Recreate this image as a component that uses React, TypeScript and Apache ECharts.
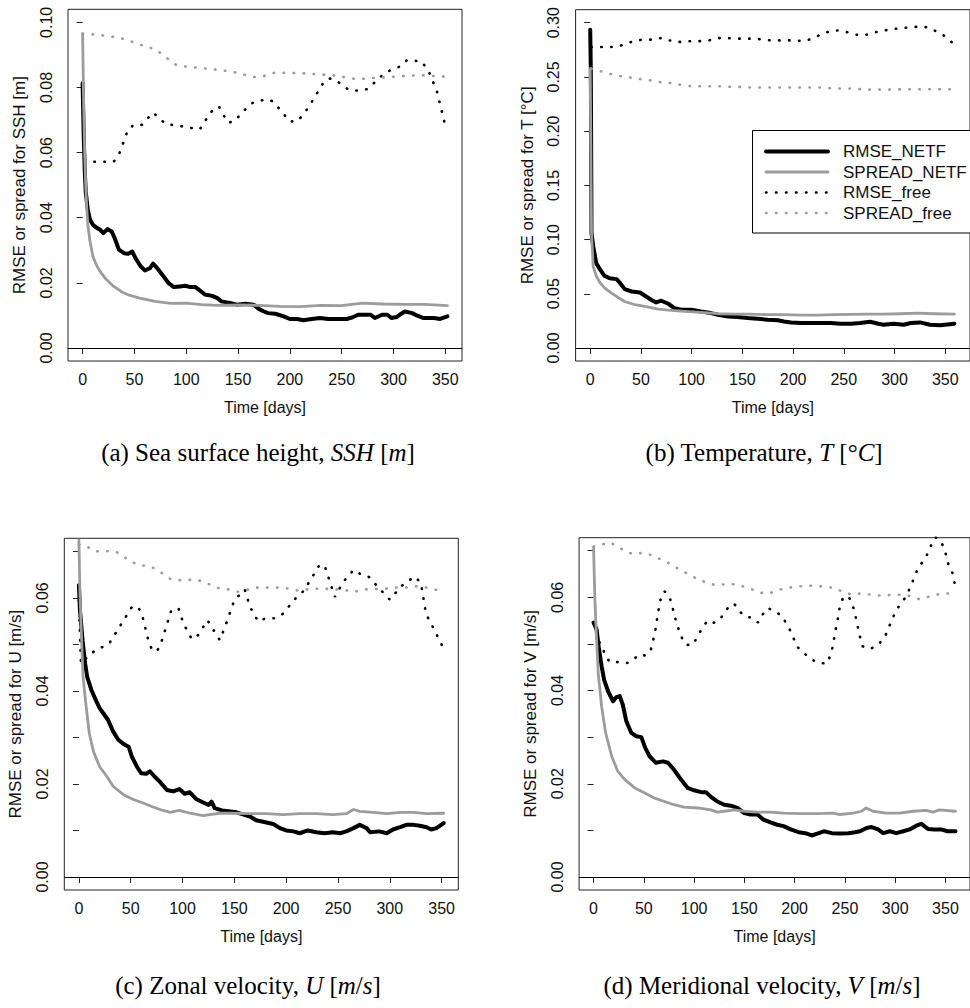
import React, { useEffect, useRef } from 'react';
import * as echarts from 'echarts';

// ---------- tick values ----------
const xTicks = [0, 50, 100, 150, 200, 250, 300, 350];
const yTicksSSH = [0, 0.02, 0.04, 0.06, 0.08, 0.1];
const yTicksT = [0, 0.05, 0.1, 0.15, 0.2, 0.25, 0.3];
const yTicksVel = [0, 0.01, 0.02, 0.03, 0.04, 0.05, 0.06, 0.07];
const yLabelsVel = [0, 0.02, 0.04, 0.06];

const legendNames = ['RMSE_NETF', 'SPREAD_NETF', 'RMSE_free', 'SPREAD_free'];

// ---------- (a) SSH ----------
const sshRmseNetf = [[0,0.0813],[1,0.066],[2,0.055],[3,0.048],[5,0.0425],[7,0.0395],[10,0.0378],[14,0.0368],[17,0.0363],[20,0.0353],[24,0.0365],[28,0.0358],[31,0.0337],[35,0.0302],[40,0.0291],[44,0.0289],[48,0.0296],[51,0.0276],[56,0.0251],[60,0.0238],[65,0.0245],[68,0.0259],[72,0.0245],[78,0.022],[83,0.0199],[88,0.0187],[94,0.0189],[99,0.0191],[104,0.0187],[109,0.0187],[113,0.0177],[118,0.0164],[125,0.016],[130,0.0153],[134,0.0143],[142,0.0138],[149,0.0133],[157,0.0136],[165,0.0133],[170,0.012],[175,0.0112],[179,0.0107],[186,0.0105],[194,0.0097],[200,0.0089],[207,0.0089],[213,0.0085],[221,0.0089],[229,0.0092],[237,0.0089],[245,0.0089],[255,0.0089],[261,0.0095],[266,0.0102],[278,0.0102],[282,0.0092],[289,0.0102],[294,0.0102],[298,0.0092],[303,0.0095],[306,0.0102],[311,0.0112],[318,0.0107],[323,0.0099],[329,0.0092],[339,0.0092],[345,0.0089],[352,0.0097]];
const sshSpreadNetf = [[0,0.0965],[1,0.075],[2,0.06],[3,0.05],[4,0.043],[5,0.038],[7,0.033],[10,0.028],[14,0.025],[18,0.023],[23,0.021],[30,0.0189],[38,0.0172],[45,0.0162],[55,0.0153],[70,0.0143],[85,0.0137],[100,0.0138],[115,0.0133],[130,0.0131],[150,0.0132],[170,0.0131],[190,0.0128],[210,0.0127],[230,0.0131],[250,0.013],[270,0.0138],[290,0.0135],[310,0.0134],[330,0.0134],[352,0.013]];
const sshRmseFree = [[2,0.0578],[8,0.0572],[30,0.0572],[35,0.0593],[44,0.0672],[50,0.0686],[57,0.0685],[68,0.0723],[80,0.0688],[97,0.068],[113,0.0671],[122,0.0716],[128,0.074],[132,0.0739],[140,0.0692],[146,0.0695],[158,0.0736],[165,0.0755],[178,0.0764],[184,0.0757],[200,0.0695],[208,0.0698],[218,0.0739],[232,0.0813],[238,0.0828],[244,0.0823],[257,0.0792],[267,0.079],[275,0.0795],[292,0.0846],[306,0.0864],[313,0.0884],[327,0.088],[334,0.085],[342,0.0787],[350,0.0682]];
const sshSpreadFree = [[0,0.0965],[10,0.0963],[25,0.0958],[40,0.0949],[55,0.0932],[70,0.0917],[78,0.09],[88,0.0872],[95,0.0866],[125,0.0856],[145,0.0848],[165,0.0832],[175,0.0835],[185,0.0845],[210,0.0844],[240,0.0838],[265,0.0825],[275,0.0828],[300,0.0833],[325,0.0838],[350,0.0833]];

// ---------- (b) Temperature ----------
const tRmseNetf = [[0,0.2936],[0.6,0.258],[1.3,0.106],[3,0.0936],[6,0.078],[9.5,0.0727],[14,0.0666],[19,0.0644],[26,0.0635],[29,0.0604],[34,0.0543],[41,0.0521],[49,0.0512],[54,0.0482],[60,0.0445],[65,0.042],[70,0.0436],[77,0.0408],[83,0.0368],[90,0.0353],[100,0.0353],[109,0.0337],[119,0.0322],[126,0.0307],[136,0.0291],[145,0.0285],[155,0.0276],[165,0.027],[175,0.0261],[185,0.0255],[191,0.0245],[198,0.0236],[208,0.023],[217,0.023],[227,0.023],[237,0.023],[247,0.0224],[257,0.0224],[266,0.023],[276,0.0242],[284,0.0224],[289,0.0215],[299,0.0224],[309,0.0215],[316,0.023],[325,0.0236],[335,0.0215],[345,0.0209],[359,0.0224]];
const tSpreadNetf = [[0,0.2577],[1.3,0.106],[2.9,0.075],[6.2,0.066],[9.5,0.0604],[14.4,0.0552],[21,0.0506],[27.5,0.0466],[34,0.0429],[44,0.0399],[54,0.0383],[67,0.0359],[80,0.0347],[93,0.0337],[109,0.0328],[126,0.0316],[142,0.0313],[158,0.0313],[175,0.0307],[191,0.0307],[208,0.0304],[224,0.0304],[240,0.0307],[257,0.031],[273,0.0313],[289,0.0313],[306,0.0316],[322,0.0322],[339,0.0316],[359,0.0313]];
const tRmseFree = [[1,0.2776],[21,0.2776],[29,0.2785],[37,0.2813],[46,0.2837],[54,0.2844],[62,0.2844],[70,0.2859],[78,0.2837],[86,0.2822],[96,0.2828],[113,0.2831],[121,0.2844],[129,0.2862],[145,0.2853],[162,0.2853],[178,0.2837],[196,0.2837],[212,0.2831],[221,0.2862],[229,0.2899],[237,0.2923],[245,0.2929],[253,0.2914],[262,0.289],[270,0.2883],[278,0.2905],[286,0.2923],[302,0.2945],[319,0.296],[327,0.2966],[335,0.2951],[342,0.2914],[350,0.2874],[358,0.2807]];
const tSpreadFree = [[1,0.2577],[9.5,0.2555],[18,0.2531],[26,0.2515],[34,0.25],[42,0.2491],[50,0.2479],[59,0.2469],[67,0.2454],[75,0.2448],[83,0.2439],[91,0.2423],[100,0.2414],[129,0.2414],[139,0.2408],[149,0.2408],[158,0.2402],[229,0.2402],[240,0.2393],[260,0.2393],[270,0.2383],[299,0.2383],[309,0.2386],[358,0.2386]];

// ---------- (c) Zonal velocity ----------
const uRmseNetf = [[0,0.0627],[1,0.0574],[3.5,0.0509],[6,0.0459],[8,0.043],[12,0.0402],[17,0.0377],[20,0.0363],[23.5,0.0352],[28,0.0338],[33,0.0313],[38,0.0295],[43,0.0286],[48,0.028],[51,0.0259],[56,0.0237],[60,0.0223],[65,0.0222],[68.5,0.0227],[73,0.0216],[78,0.0205],[85,0.0187],[91,0.0184],[97,0.0189],[102,0.0179],[107,0.0182],[113.5,0.0167],[120,0.016],[125,0.0155],[128,0.0162],[131,0.0148],[138,0.0143],[146,0.0141],[152,0.0139],[159,0.0134],[165,0.013],[171,0.0122],[181,0.0117],[187.5,0.0114],[194,0.0105],[200,0.01],[207,0.0098],[213,0.0094],[221,0.01],[229,0.0096],[237,0.0094],[245,0.0096],[252,0.0094],[258,0.0098],[265,0.0105],[271,0.0112],[277.6,0.0105],[281,0.0096],[290,0.0098],[297,0.0094],[303,0.0102],[310,0.0107],[316,0.0112],[323,0.0112],[329,0.011],[335.5,0.0107],[340,0.0102],[345,0.0105],[352,0.0116]];
const uSpreadNetf = [[0,0.0724],[1,0.0609],[2.6,0.0509],[4,0.043],[7,0.0366],[10,0.0309],[14,0.027],[20,0.0237],[27,0.0216],[33,0.0195],[43,0.0177],[52,0.0167],[62,0.0159],[72,0.015],[81,0.0143],[88,0.0139],[97,0.0143],[107,0.0137],[120,0.0132],[126,0.0134],[136,0.0137],[149,0.0137],[165,0.0136],[181,0.0136],[197,0.0134],[213,0.0136],[229,0.0136],[245,0.0134],[258,0.0136],[265,0.0145],[271,0.0141],[284,0.0139],[297,0.0136],[310,0.0139],[323,0.0139],[335.5,0.0136],[352,0.0137]];
const uRmseFree = [[0,0.0595],[2,0.0459],[7,0.047],[15,0.0486],[29,0.0501],[51,0.058],[57,0.0581],[61,0.0563],[67,0.0509],[70,0.0491],[75,0.0484],[79,0.0501],[89,0.0572],[96,0.0578],[101,0.0544],[109,0.0511],[115,0.052],[124,0.0552],[129,0.0534],[136,0.0509],[142,0.0544],[150,0.0595],[160,0.0618],[165,0.0581],[173,0.0549],[180,0.0556],[188,0.0556],[196,0.0564],[211,0.0604],[217,0.0615],[232,0.067],[237,0.067],[247,0.0602],[255,0.0634],[265,0.066],[271,0.0652],[279,0.0647],[290,0.062],[300,0.0596],[311,0.0625],[324,0.0646],[330,0.0632],[335,0.0565],[343,0.0531],[351,0.0495]];
const uSpreadFree = [[0,0.0714],[7,0.0712],[14,0.0701],[22,0.0699],[30,0.0701],[38,0.0697],[44,0.0687],[51,0.0677],[59,0.067],[67,0.0669],[73,0.0663],[81,0.0652],[88,0.0641],[97,0.0638],[113,0.0639],[121,0.0634],[128,0.0627],[136,0.062],[145,0.0618],[153,0.0613],[161,0.0616],[169,0.0622],[194,0.0622],[202,0.062],[210,0.0616],[218,0.0618],[234,0.062],[250,0.0618],[258,0.0616],[266,0.0613],[274,0.0618],[298,0.062],[306,0.0622],[315,0.0622],[323,0.0625],[332,0.0624],[342,0.0618],[350,0.0616]];

// ---------- (d) Meridional velocity ----------
const vRmseNetf = [[0,0.0546],[3,0.0531],[5,0.0495],[8,0.0452],[10.5,0.0423],[14.5,0.0398],[19.4,0.0377],[22.7,0.0386],[26,0.0388],[29,0.037],[32.6,0.0334],[37.6,0.0309],[42.5,0.0302],[47.5,0.03],[51.4,0.0277],[55.7,0.0259],[62,0.0245],[69,0.0248],[74,0.0245],[80,0.023],[87,0.0209],[93.6,0.0191],[100,0.0186],[107,0.0182],[111.7,0.0182],[116.7,0.0172],[123,0.0162],[130,0.0155],[136.5,0.0153],[143,0.0148],[150,0.0137],[156,0.0134],[163,0.0134],[169,0.0123],[176,0.0117],[182.6,0.0112],[189,0.0109],[196,0.0102],[204,0.0096],[210.6,0.0094],[217,0.0089],[224,0.0094],[229,0.0098],[237,0.0094],[245,0.0093],[253.5,0.0094],[260,0.0096],[265,0.0098],[271.6,0.0105],[276.5,0.0107],[283,0.0102],[288,0.0094],[294.7,0.0098],[301,0.0094],[308,0.0098],[314.4,0.0102],[321,0.011],[326,0.0114],[332.6,0.0103],[339,0.0102],[345.7,0.0102],[352,0.0098],[360,0.0098]];
const vSpreadNetf = [[0,0.0706],[1.3,0.0595],[3,0.0509],[4.6,0.0438],[8,0.0366],[12,0.0309],[18,0.0259],[24,0.0227],[31,0.0209],[41,0.0191],[51,0.018],[60.6,0.0169],[70.5,0.0162],[80,0.0155],[90,0.015],[103.5,0.0148],[116.7,0.0144],[123,0.0139],[130,0.0141],[140,0.0144],[150,0.0141],[163,0.0139],[176,0.0139],[189,0.0137],[205.7,0.0136],[222,0.0136],[238.6,0.0137],[245,0.0134],[258,0.0137],[266.6,0.0141],[271,0.0148],[278,0.0141],[291,0.0137],[304.5,0.0137],[317.7,0.0141],[331,0.0143],[337.5,0.0139],[344,0.0144],[360,0.0141]];
const vRmseFree = [[0,0.0545],[4.6,0.0509],[8,0.0495],[12,0.0475],[16,0.0461],[24,0.0461],[33,0.0459],[39,0.0465],[45,0.0477],[52,0.0475],[57,0.0488],[61,0.0523],[64,0.0566],[66.6,0.0595],[70.5,0.0613],[75.5,0.0602],[79,0.0574],[82,0.0549],[87,0.0516],[92,0.0498],[98.5,0.0498],[103.5,0.0516],[108,0.0534],[113,0.0549],[118,0.0544],[125,0.0551],[130,0.0566],[135,0.0582],[140,0.0586],[145,0.057],[151,0.0559],[158,0.0556],[163.5,0.0546],[168,0.0563],[173,0.0577],[181,0.057],[187.5,0.0559],[192.5,0.0541],[197,0.0523],[202,0.0495],[209,0.0481],[216,0.0468],[224,0.0459],[232,0.0458],[235,0.0473],[238,0.0495],[240,0.0523],[242.6,0.0549],[245,0.0581],[248.5,0.0601],[254,0.0601],[258,0.0581],[261.7,0.0549],[264,0.0523],[267.6,0.0495],[275,0.0489],[283,0.0498],[289.7,0.0515],[294.7,0.0541],[299.6,0.0566],[304.5,0.0584],[311,0.0602],[316,0.0627],[322.7,0.0663],[327.6,0.0677],[332.6,0.0695],[336,0.0713],[340,0.0729],[345,0.0722],[349,0.0704],[353,0.067],[357,0.0652],[359,0.0631]];
const vSpreadFree = [[0,0.0709],[8,0.0713],[16,0.0718],[24,0.0709],[31,0.0699],[39,0.0693],[47.5,0.0695],[55.7,0.0692],[64,0.0684],[72,0.0677],[79,0.0668],[87,0.0658],[95,0.0649],[103.5,0.0639],[112,0.0632],[120,0.0627],[126.6,0.0627],[135,0.0629],[143,0.0627],[151,0.0622],[159,0.0616],[166,0.061],[174,0.0608],[182.6,0.0615],[191,0.062],[199,0.0622],[207,0.0624],[215.5,0.0625],[224,0.0624],[232,0.0622],[240,0.062],[248.5,0.0611],[256.7,0.0606],[265,0.0608],[275,0.0606],[283,0.0604],[308,0.0606],[316,0.0602],[324,0.0596],[332.6,0.0601],[341,0.0606],[349,0.0608],[358,0.0609]];

const SANS = "'Liberation Sans', Arial, Helvetica, sans-serif";
const SERIF = "'Liberation Serif', 'Times New Roman', serif";
const GRAY = '#9c9c9c';
const INK = '#111';

const panels = [
  { grid: { left: 68, top: 9.3, width: 394, height: 351.7 }, x: [-14.1, 366.1], y: [-0.004, 0.104], yTicks: yTicksSSH, yLabels: yTicksSSH, title: 'RMSE or spread for SSH [m]', data: [sshRmseNetf, sshSpreadNetf, sshRmseFree, sshSpreadFree] },
  { grid: { left: 575.6, top: 9.7, width: 395.8, height: 351.3 }, x: [-14.4, 374.4], y: [-0.012, 0.312], yTicks: yTicksT, yLabels: yTicksT, title: 'RMSE or spread for T [°C]', data: [tRmseNetf, tSpreadNetf, tRmseFree, tSpreadFree] },
  { grid: { left: 64.3, top: 538.3, width: 394, height: 351.7 }, x: [-14.1, 366.1], y: [-0.0028, 0.0728], yTicks: yTicksVel, yLabels: yLabelsVel, title: 'RMSE or spread for U [m/s]', data: [uRmseNetf, uSpreadNetf, uRmseFree, uSpreadFree] },
  { grid: { left: 579.1, top: 537.7, width: 393.2, height: 352.3 }, x: [-14.4, 374.4], y: [-0.0028, 0.0728], yTicks: yTicksVel, yLabels: yLabelsVel, title: 'RMSE or spread for V [m/s]', data: [vRmseNetf, vSpreadNetf, vRmseFree, vSpreadFree] },
];

const lineStyles: any[] = [
  { color: '#000', width: 4, type: 'solid', cap: 'round', join: 'round' },
  { color: GRAY, width: 2.8, type: 'solid', cap: 'round', join: 'round' },
  { color: '#000', width: 2.6, type: [0.5, 9.5], cap: 'round' },
  { color: GRAY, width: 2.6, type: [0.5, 9.5], cap: 'round' },
];

const captions = [
  { x: 258, y: 452, text: '(a) Sea surface height, {i|SSH} [{i|m}]' },
  { x: 764, y: 452, text: '(b) Temperature, {i|T} [°{i|C}]' },
  { x: 248, y: 985, text: '(c) Zonal velocity, {i|U} [{i|m}/{i|s}]' },
  { x: 762, y: 985, text: '(d) Meridional velocity, {i|V} [{i|m}/{i|s}]' },
];

function buildOption() {
  const grid: any[] = [];
  const xAxis: any[] = [];
  const yAxis: any[] = [];
  const series: any[] = [];
  panels.forEach((p, i) => {
    grid.push({ ...p.grid, show: true, borderColor: '#222', borderWidth: 1, backgroundColor: 'transparent', containLabel: false });
    xAxis.push({
      type: 'value', gridIndex: i, min: p.x[0], max: p.x[1],
      axisLine: { show: false }, splitLine: { show: false },
      axisTick: { show: true, length: 6, customValues: xTicks, lineStyle: { color: '#222', width: 1 } },
      axisLabel: { customValues: xTicks, margin: 10, fontSize: 16, color: INK, fontFamily: SANS },
      name: 'Time [days]', nameLocation: 'middle', nameGap: 38,
      nameTextStyle: { fontSize: 16, color: INK, fontFamily: SANS },
    });
    yAxis.push({
      type: 'value', gridIndex: i, min: p.y[0], max: p.y[1],
      axisLine: { show: false }, splitLine: { show: false },
      axisTick: { show: true, length: 6, customValues: p.yTicks, lineStyle: { color: '#222', width: 1 } },
      axisLabel: { customValues: p.yLabels, rotate: 90, margin: 14, fontSize: 16, color: INK, fontFamily: SANS, formatter: (v: number) => v.toFixed(2) },
      name: p.title, nameLocation: 'middle', nameGap: 40,
      nameTextStyle: { fontSize: 17, color: INK, fontFamily: SANS },
    });
    p.data.forEach((d, k) => {
      const s: any = {
        type: 'line', name: legendNames[k], xAxisIndex: i, yAxisIndex: i,
        data: d, symbol: 'none', showSymbol: false, smooth: false, silent: true,
        lineStyle: lineStyles[k], z: k === 1 ? 4 : 3,
      };
      if (k === 0) {
        s.markLine = {
          silent: true, symbol: ['none', 'none'], label: { show: false },
          lineStyle: { color: '#000', width: 1, type: 'solid' },
          data: [{ yAxis: 0 }],
        };
      }
      series.push(s);
    });
  });

  const lx0 = 766, lx1 = 828, tx = 843;
  const rows = [151.5, 172, 192.5, 213];
  const legendChildren: any[] = [
    { type: 'rect', shape: { x: 752.5, y: 130.5, width: 240, height: 102.5 }, style: { fill: '#fff', stroke: '#000', lineWidth: 1 } },
  ];
  rows.forEach((ry, k) => {
    const ls = lineStyles[k];
    legendChildren.push({
      type: 'line', shape: { x1: lx0, y1: ry, x2: lx1, y2: ry },
      style: { stroke: ls.color, lineWidth: ls.width, lineDash: Array.isArray(ls.type) ? ls.type : null, lineCap: ls.cap || 'butt' },
    });
    legendChildren.push({
      type: 'text', x: tx, y: ry,
      style: { text: legendNames[k], fontSize: 17, fontFamily: SANS, fill: INK, verticalAlign: 'middle', align: 'left' },
    });
  });

  const captionEls = captions.map((c) => ({
    type: 'text', x: c.x, y: c.y,
    style: {
      text: c.text, fontSize: 25, fontFamily: SERIF, fill: '#000', align: 'center', verticalAlign: 'middle',
      rich: { i: { fontStyle: 'italic', fontSize: 25, fontFamily: SERIF, fill: '#000' } },
    },
  }));

  return {
    animation: false,
    backgroundColor: '#fff',
    grid, xAxis, yAxis, series,
    graphic: [
      { type: 'group', z: 100, children: legendChildren },
      ...captionEls,
    ],
  };
}

export default function App() {
  const ref = useRef<HTMLDivElement>(null);
  useEffect(() => {
    document.body.style.margin = '0';
    if (!ref.current) return;
    const chart = echarts.init(ref.current, undefined, { renderer: 'svg' });
    chart.setOption(buildOption() as any);
    return () => chart.dispose();
  }, []);
  return <div ref={ref} style={{ width: 970, height: 1008 }} />;
}
